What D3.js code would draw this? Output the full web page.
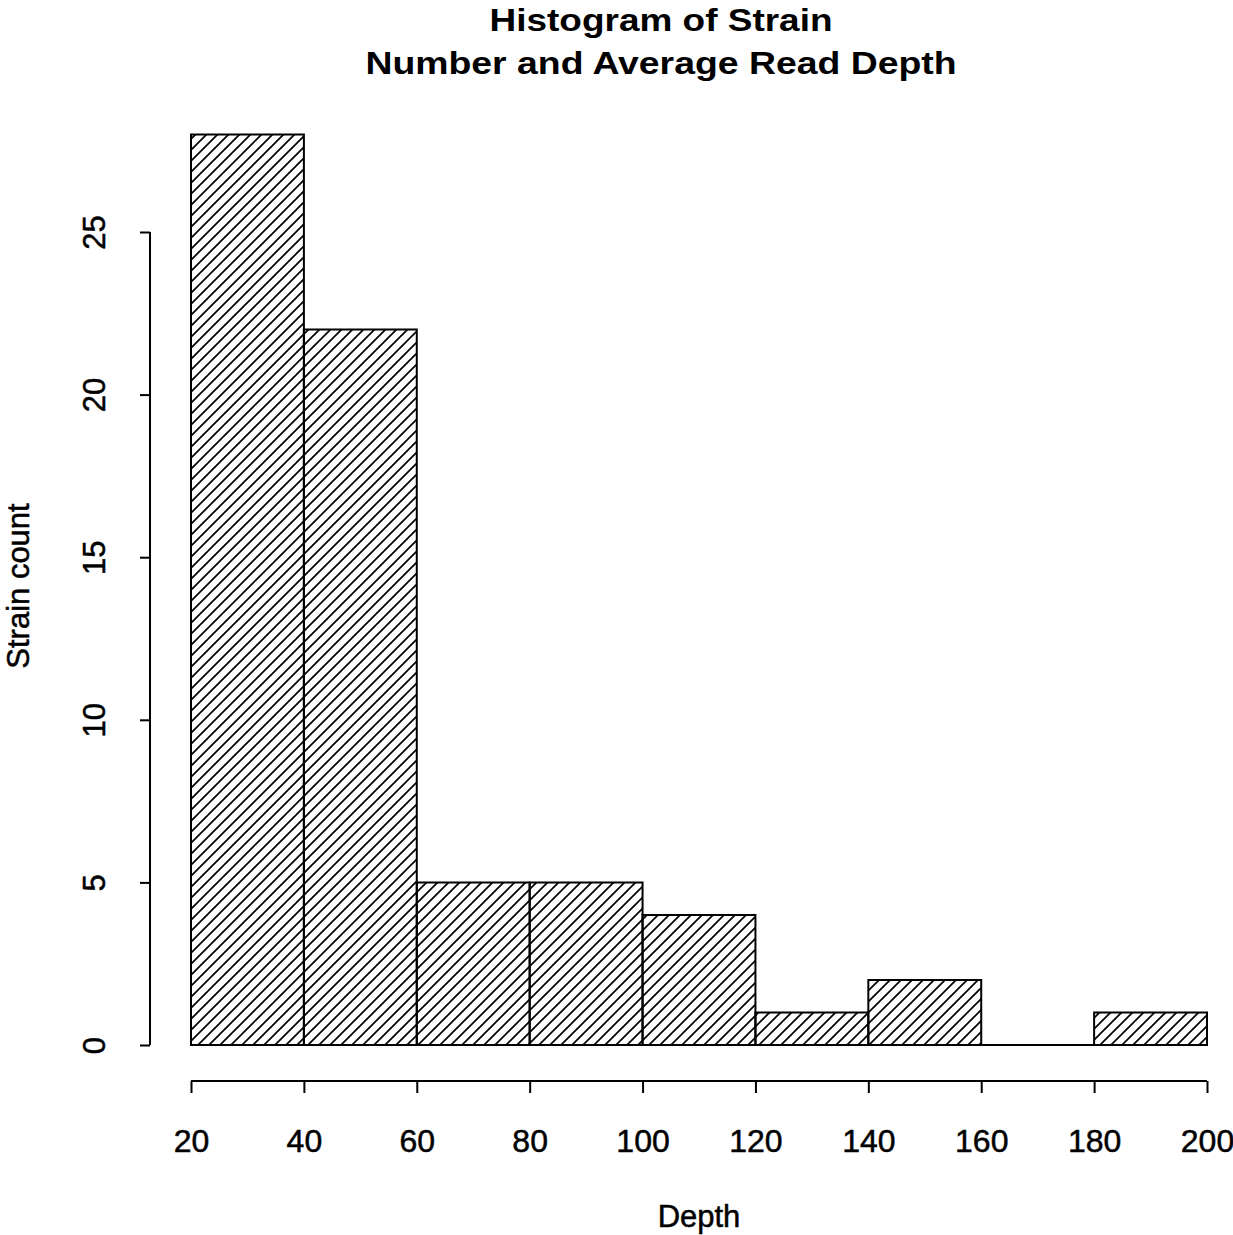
<!DOCTYPE html>
<html>
<head>
<meta charset="utf-8">
<script src="https://cdn.jsdelivr.net/npm/d3@7"></script>
<style>
  body { margin: 0; background: #fff; }
  text { font-family: "Liberation Sans", Arial, sans-serif; fill: #000; }
  .lbl { stroke: #000; stroke-width: 0.5px; }
</style>
</head>
<body>
<svg id="chart" width="1233" height="1235"></svg>
<script>
// bins of depth and strain counts
let binEdges = [20, 40, 60, 80, 100, 120, 140, 160, 180, 200]
let counts = [28, 22, 5, 5, 4, 1, 2, 0, 1]
let xTicks = [20, 40, 60, 80, 100, 120, 140, 160, 180, 200]
let yTicks = [0, 5, 10, 15, 20, 25]
let titleLines = ['Histogram of Strain', 'Number and Average Read Depth']

let svg = d3.select('#chart')

let xScale = d3.scaleLinear().domain([20, 200]).range([191, 1207])
let yScale = d3.scaleLinear().domain([0, 25]).range([1045, 232])

// hatch pattern (45 deg lines)
let defs = svg.append('defs')
let pat = defs.append('pattern')
  .attr('id', 'hatch')
  .attr('patternUnits', 'userSpaceOnUse')
  .attr('width', 11).attr('height', 11)
pat.append('path')
  .attr('d', 'M-2,2 L2,-2 M0,11 L11,0 M9,13 L13,9')
  .attr('stroke', '#000').attr('stroke-width', 1.7)

let bins = counts.map((c, i) => ({x0: binEdges[i], x1: binEdges[i + 1], n: c}))

// paths so the empty bin still shows as a line on the baseline
svg.selectAll('path.bar').data(bins).enter().append('path')
  .attr('class', 'bar')
  .attr('d', d => {
    let x0 = xScale(d.x0), x1 = xScale(d.x1), y0 = yScale(0), y1 = yScale(d.n)
    return `M${x0},${y0}V${y1}H${x1}V${y0}Z`
  })
  .attr('fill', 'url(#hatch)')
  .attr('stroke', '#000')
  .attr('stroke-width', 2)

// x axis
let axisX = d3.axisBottom(xScale).tickValues(xTicks).tickSize(12)
let gx = svg.append('g').attr('transform', 'translate(0,1081)').call(axisX)
gx.select('.domain').attr('stroke-width', 2).attr('d', `M${xScale(20)},0H${xScale(200)}`)
gx.selectAll('.tick line').attr('stroke-width', 2)
gx.selectAll('.tick text')
  .attr('class', 'lbl')
  .style('font-size', '32px').attr('font-family', null)
  .attr('y', 71).attr('dy', 0)

// y axis
let axisY = d3.axisLeft(yScale).tickValues(yTicks).tickSize(10)
let gy = svg.append('g').attr('transform', 'translate(150,0)').call(axisY)
gy.select('.domain').attr('stroke-width', 2).attr('d', `M0,${yScale(0)}V${yScale(25)}`)
gy.selectAll('.tick line').attr('stroke-width', 2)
gy.selectAll('.tick text')
  .attr('class', 'lbl')
  .style('font-size', '31px').attr('font-family', null)
  .attr('x', 0).attr('dy', 0)
  .attr('text-anchor', 'middle')
  .attr('transform', 'translate(-45,0) rotate(-90)')

// titles
let titleW = [343, 591]
svg.selectAll('text.title').data(titleLines).enter().append('text')
  .attr('class', 'title')
  .attr('x', 661)
  .attr('y', (d, i) => 31 + i * 43)
  .attr('text-anchor', 'middle')
  .attr('textLength', (d, i) => titleW[i])
  .attr('lengthAdjust', 'spacingAndGlyphs')
  .style('font-size', '32px')
  .style('font-weight', 'bold')
  .text(d => d)

svg.append('text')
  .attr('class', 'lbl')
  .attr('x', 699).attr('y', 1227)
  .attr('text-anchor', 'middle')
  .style('font-size', '31px')
  .text('Depth')

svg.append('text')
  .attr('class', 'lbl')
  .attr('transform', 'translate(29,586) rotate(-90)')
  .attr('text-anchor', 'middle')
  .style('font-size', '31px')
  .text('Strain count')
</script>
</body>
</html>
